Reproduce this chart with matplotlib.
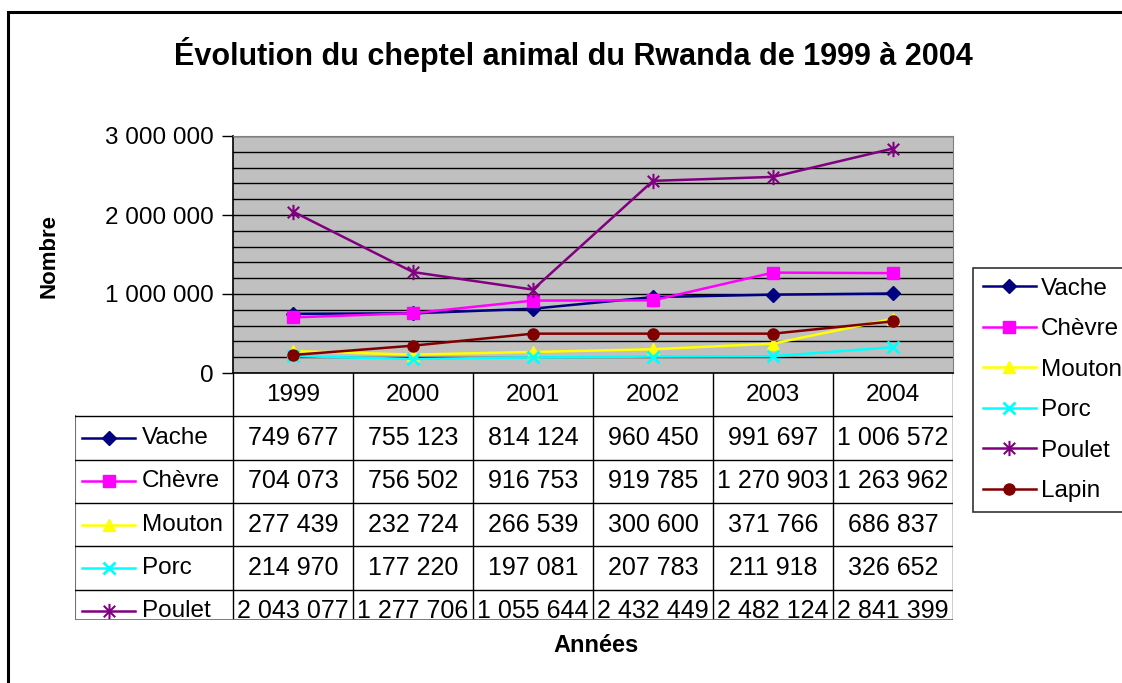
import numpy as np
import matplotlib
matplotlib.use("Agg")
import matplotlib.pyplot as plt
from matplotlib.path import Path
from matplotlib.patches import Rectangle

plt.rcParams['font.family'] = ['Liberation Sans', 'DejaVu Sans']

years = ["1999", "2000", "2001", "2002", "2003", "2004"]
series = ["Vache", "Chèvre", "Mouton", "Porc", "Poulet", "Lapin"]
vache = [749677, 755123, 814124, 960450, 991697, 1006572]
chevre = [704073, 756502, 916753, 919785, 1270903, 1263962]
mouton = [277439, 232724, 266539, 300600, 371766, 686837]
porc = [214970, 177220, 197081, 207783, 211918, 326652]
poulet = [2043077, 1277706, 1055644, 2432449, 2482124, 2841399]
lapin = [228000, 346000, 498000, 498000, 498000, 654000]  # row hidden in table
values = [vache, chevre, mouton, porc, poulet, lapin]

# excel-like star marker: vertical bar + two diagonals
star = Path([(0, -1), (0, 1), (-0.75, -0.75), (0.75, 0.75), (-0.75, 0.75), (0.75, -0.75)],
            [Path.MOVETO, Path.LINETO, Path.MOVETO, Path.LINETO, Path.MOVETO, Path.LINETO])

colors = ["#000080", "#FF00FF", "#FFFF00", "#00FFFF", "#800080", "#800000"]
markers = [
    dict(marker="D", ms=7, mfc="#000080", mec="#000080"),
    dict(marker="s", ms=8, mfc="#FF00FF", mec="#FF00FF"),
    dict(marker="^", ms=9, mfc="#FFFF00", mec="#FFFF00"),
    dict(marker="x", ms=9, mec="#00FFFF", mew=2),
    dict(marker=star, ms=11, mec="#800080", mew=1.5, mfc="none"),
    dict(marker="o", ms=8, mfc="#800000", mec="#800000"),
]

W, H = 1122, 683
fig = plt.figure(figsize=(W / 100, H / 100), dpi=100)

def fx(px):
    return px / W

def fy(py):
    return 1 - py / H

# outer chart border
fig.patches.append(Rectangle((fx(8), -0.1), 1.2, fy(12) + 0.1, transform=fig.transFigure,
                             fill=False, edgecolor="black", linewidth=2.2))

# plot area
left, right, top, bottom = 233, 953, 136, 373
ax = fig.add_axes([fx(left), fy(bottom), fx(right - left), (bottom - top) / H])
ax.set_facecolor("#C0C0C0")
x = np.arange(len(years))
for name, v, c, mk in zip(series, values, colors, markers):
    ax.plot(x, v, label=name, color=c, linewidth=1.8, **mk, zorder=3)
ax.set_xlim(-0.5, len(years) - 0.5)
ax.set_ylim(0, 3000000)
yt = [0, 1000000, 2000000, 3000000]
ax.set_yticks(yt)
ax.set_yticklabels([f"{t:,}".replace(",", " ") for t in yt], fontsize=17.5)
ax.set_yticks(np.arange(0, 3000001, 200000), minor=True)
ax.yaxis.grid(True, which="both", color="black", linewidth=1)
ax.set_axisbelow(True)
ax.tick_params(axis="y", which="major", length=8, width=1, pad=6)
ax.tick_params(axis="y", which="minor", length=0)
ax.set_xticks([])
for s in ["top", "right"]:
    ax.spines[s].set_color("#808080")
for s in ["left", "bottom"]:
    ax.spines[s].set_color("black")
    ax.spines[s].set_linewidth(1.2)

# data table below the plot (clipped by the chart frame, like the original)
tb_bottom = 620
rows_shown = (tb_bottom - bottom) / 43.3
tleft = 75
xl = -0.5 - (left - tleft) / 120
tax = fig.add_axes([fx(tleft), fy(tb_bottom), fx(right - tleft), (tb_bottom - bottom) / H])
tax.set_xlim(xl, len(years) - 0.5)
tax.set_ylim(rows_shown, 0)
tax.axis("off")
for i in range(len(years) + 1):
    tax.plot([i - 0.5, i - 0.5], [0, rows_shown], color="black", lw=1)
tax.plot([xl, xl], [1, rows_shown], color="#707070", lw=1.5)
for r in range(1, len(series) + 1):
    if r < rows_shown:
        tax.plot([xl, len(years) - 0.5], [r, r], color="black", lw=1)
tax.plot([xl, len(years) - 0.5], [rows_shown, rows_shown], color="#707070", lw=2)
for i, yr in enumerate(years):
    tax.text(i, 0.5, yr, ha="center", va="center", fontsize=17.5)
for r, (name, v, c, mk) in enumerate(zip(series, values, colors, markers)):
    if r + 1 >= rows_shown:
        continue
    yc = r + 1.5
    x0 = xl + 7 / 120
    x1 = xl + 60 / 120
    tax.plot([x0, x1], [yc, yc], color=c, linewidth=1.8)
    tax.plot([(x0 + x1) / 2], [yc], linestyle="none", **mk)
    tax.text(xl + 67 / 120, yc, name, ha="left", va="center", fontsize=17.5, clip_on=True)
    for i, val in enumerate(v):
        tax.text(i, yc, f"{val:,}".replace(",", " "), ha="center", va="center",
                 fontsize=18, clip_on=True)

# texts
fig.text(fx(573), fy(55), "Évolution du cheptel animal du Rwanda de 1999 à 2004",
         ha="center", va="center", fontsize=22, fontweight="bold")
fig.text(fx(49), fy(256), "Nombre", rotation=90, ha="center", va="center", fontsize=16, fontweight="bold")
fig.text(fx(596), fy(645), "Années", ha="center", va="center", fontsize=17, fontweight="bold")

# legend on the right
handles, labels = ax.get_legend_handles_labels()
leg = fig.legend(handles, labels, loc="upper left", bbox_to_anchor=(fx(973), fy(268)),
                 fontsize=17.5, frameon=True, fancybox=False, edgecolor="black",
                 handlelength=2.2, handletextpad=0.2, labelspacing=0.76,
                 borderpad=0.4, borderaxespad=0)
leg.get_frame().set_linewidth(1.2)

fig.savefig("out.png", dpi=100)
